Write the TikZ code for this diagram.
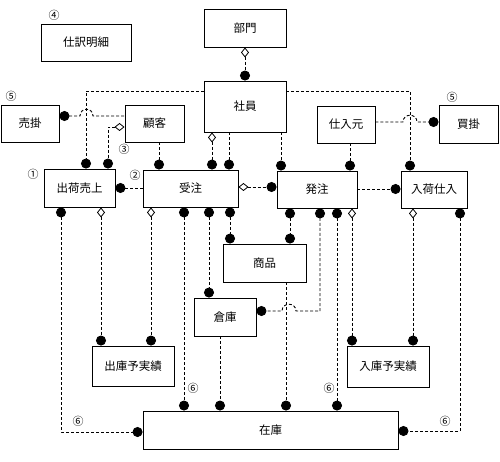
\documentclass[tikz,border=0pt]{standalone}
\usepackage{fontspec}
\setmainfont{Noto Sans CJK JP}
\usepackage{tikz}
\usetikzlibrary{positioning,arrows.meta,calc}

\tikzset{
	ent/.style={draw,line width=0.9pt,fill=white,inner sep=0pt,font=\fontsize{11.5pt}{13pt}\selectfont},
	rel/.style={line width=0.9pt,dash pattern=on 3pt off 2pt},
	num/.style={inner sep=0pt,font=\fontsize{11pt}{12pt}\selectfont},
	rdot/.tip={Circle[length=10pt]},
	rdia/.tip={Diamond[length=10pt,width=8pt,fill=white,line width=0.8pt]}
}

\begin{document}
\begin{tikzpicture}[x=1pt,y=-1pt]
	\useasboundingbox (0,0) rectangle (500,462);

	\node[ent,minimum width=82pt,minimum height=38pt] (bumon) at (245,28) {部門};
	\node[ent,minimum width=82pt,minimum height=51pt] (shain) at (245,106.5) {社員};
	\node[ent,minimum width=90pt,minimum height=37pt] (shiwake) at (86,42.5) {仕訳明細};
	\node[ent,minimum width=58pt,minimum height=37pt] (urikake) at (30,123.5) {売掛};
	\node[ent,minimum width=59pt,minimum height=37pt] (kokyaku) at (154.5,123.5) {顧客};
	\node[ent,minimum width=58pt,minimum height=37pt] (shiire) at (346,124.5) {仕入元};
	\node[ent,minimum width=59pt,minimum height=38pt] (kaikake) at (468.5,124) {買掛};
	\node[ent,minimum width=71pt,minimum height=38pt] (shukka) at (79.5,188) {出荷売上};
	\node[ent,minimum width=95pt,minimum height=37pt] (juchu) at (190.5,188.5) {受注};
	\node[ent,minimum width=80pt,minimum height=37pt] (hatchu) at (317,189.5) {発注};
	\node[ent,minimum width=66pt,minimum height=37pt] (nyuka) at (434,189.5) {入荷仕入};
	\node[ent,minimum width=83pt,minimum height=38pt] (shohin) at (264.5,263) {商品};
	\node[ent,minimum width=62pt,minimum height=38pt] (soko) at (225,317) {倉庫};
	\node[ent,minimum width=82pt,minimum height=40pt] (shukoyo) at (133,366) {出庫予実績};
	\node[ent,minimum width=82pt,minimum height=41pt] (nyukoyo) at (388,366.5) {入庫予実績};
	\node[ent,minimum width=255pt,minimum height=38pt] (zaiko) at (270.5,430) {在庫};

	\node[num] (n4) at (54,15) {④};
	\node[num] (n5a) at (11,96) {⑤};
	\node[num] (n5b) at (452,97) {⑤};
	\node[num] (n1) at (33,174) {①};
	\node[num] (n2) at (135,175) {②};
	\node[num] (n3) at (124,149) {③};
	\node[num] (n6a) at (78,421) {⑥};
	\node[num] (n6b) at (193,388) {⑥};
	\node[num] (n6c) at (329,388) {⑥};
	\node[num] (n6d) at (445,421) {⑥};

	% upper part
	\draw[rel,rdia-rdot] (bumon.south) -- (shain.north);
	\draw[rel,-rdot] (shain.west |- 0,91) -| (shukka.north -| 86,0);
	\draw[rel,-rdot] (shain.east |- 0,91) -| (nyuka.north -| 410,0);
	\draw[rel,rdot-] (urikake.east |- 0,116) -- (80,116) .. controls (80,107) and (93,107) .. (93,116) -- (kokyaku.west |- 0,116); % hop
	\draw[rel,rdia-rdot] (kokyaku.west |- 0,127) -| (shukka.north -| 108,0);
	\draw[rel,-rdot] (kokyaku.south -| 159,0) -- (juchu.north -| 159,0);
	\draw[rel,rdia-rdot] (shain.south -| 212,0) -- (juchu.north -| 212,0);
	\draw[rel,-rdot] (shain.south -| 229,0) -- (juchu.north -| 229,0);
	\draw[rel,-rdot] (shain.south -| 281,0) -- (hatchu.north -| 281,0);
	\draw[rel,-rdot] (shiire.south -| 350,0) -- (hatchu.north -| 350,0);
	\draw[rel,-rdot] (shiire.east |- 0,122) -- (403,122) .. controls (403,113) and (417,113) .. (417,122) -- (kaikake.west |- 0,122); % hop

	% middle row
	\draw[rel,rdot-] (shukka.east |- 0,188) -- (juchu.west |- 0,188);
	\draw[rel,rdia-rdot] (juchu.east |- 0,187) -- (hatchu.west |- 0,187);
	\draw[rel,-rdot] (hatchu.east |- 0,189) -- (nyuka.west |- 0,189);

	% lower part
	\draw[rel,rdot-rdot] (shukka.south -| 61,0) |- (zaiko.west |- 0,432);
	\draw[rel,rdia-rdot] (shukka.south -| 101,0) -- (shukoyo.north -| 101,0);
	\draw[rel,rdia-rdot] (juchu.south -| 151,0) -- (shukoyo.north -| 151,0);
	\draw[rel,rdot-rdot] (juchu.south -| 184,0) -- (zaiko.north -| 184,0);
	\draw[rel,rdot-rdot] (juchu.south -| 209,0) -- (soko.north -| 209,0);
	\draw[rel,rdot-rdot] (juchu.south -| 230,0) -- (shohin.north -| 230,0);
	\draw[rel,rdot-rdot] (hatchu.south -| 290,0) -- (shohin.north -| 290,0);
	\draw[rel,rdot-rdot] (hatchu.south -| 320,0) -- (320,311) -- (296,311) .. controls (296,302) and (282,302) .. (282,311) -- (soko.east |- 0,311); % hop
	\draw[rel,rdot-rdot] (hatchu.south -| 337,0) -- (zaiko.north -| 337,0);
	\draw[rel,rdia-rdot] (hatchu.south -| 352,0) -- (nyukoyo.north -| 352,0);
	\draw[rel,rdia-rdot] (nyuka.south -| 413,0) -- (nyukoyo.north -| 413,0);
	\draw[rel,rdot-rdot] (nyuka.south -| 460,0) |- (zaiko.east |- 0,431);
	\draw[rel,-rdot] (shohin.south -| 286,0) -- (zaiko.north -| 286,0);
	\draw[rel,-rdot] (soko.south -| 220,0) -- (zaiko.north -| 220,0);

\end{tikzpicture}
\end{document}
